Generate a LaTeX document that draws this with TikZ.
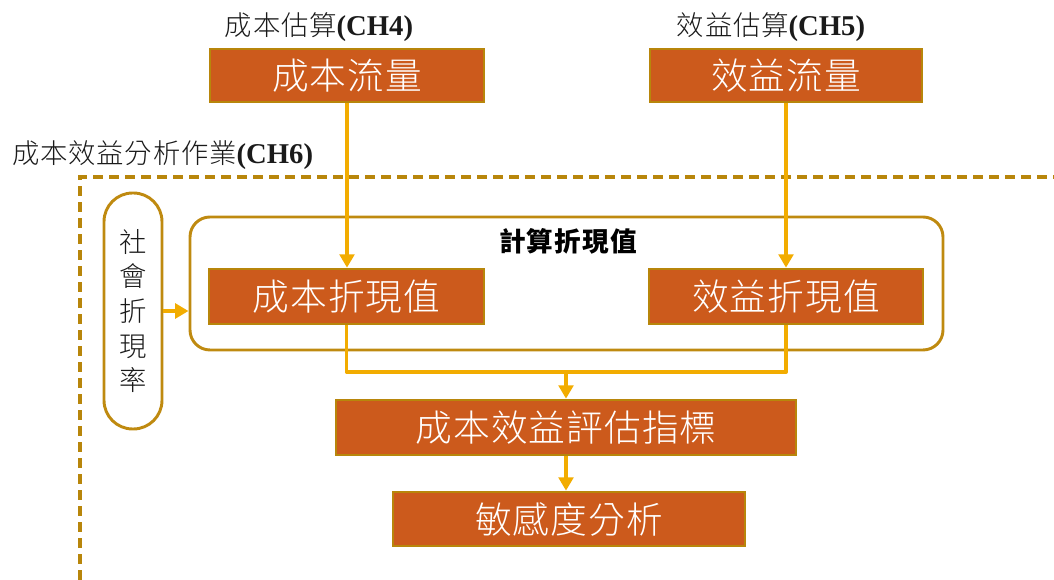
\documentclass[tikz,border=0pt]{standalone}
\usepackage{fontspec}
\IfFontExistsTF{Noto Sans CJK TC Light}{%
  \setmainfont{Noto Sans CJK TC Light}[BoldFont={Noto Sans CJK TC Bold}]}{%
  \setmainfont{Noto Sans CJK TC}}
\newfontfamily\boldcjk{Noto Sans CJK TC}[LetterSpace=4]
\newfontfamily\tnr{Liberation Serif}
\usetikzlibrary{arrows.meta}
\definecolor{boxfill}{HTML}{CC5A1C}
\definecolor{boxedge}{HTML}{B8860B}
\definecolor{arrowc}{HTML}{F2AC00}
\definecolor{framec}{HTML}{BF8A10}
\definecolor{txtc}{HTML}{1A1A1A}
\tikzset{
  box/.style={draw=boxedge, line width=2pt, fill=boxfill, text=white, font=\fontsize{27.5}{30}\selectfont\addfontfeatures{LetterSpace=3}, inner sep=0pt},
  conn/.style={draw=arrowc, line width=2.9pt},
  arr/.style={conn, -{Triangle[width=11pt,length=10pt]}},
  lbl/.style={text=txtc, font=\fontsize{20.5}{22}\selectfont\addfontfeatures{LetterSpace=3}, inner sep=0pt},
  frame/.style={draw=framec, line width=2.2pt},
}
\newcommand{\chlabel}[1]{{\fontsize{21.5}{22}\selectfont\tnr\bfseries #1}}
\begin{document}
\begin{tikzpicture}[x=0.75pt,y=-0.75pt]
\useasboundingbox (0,0) rectangle (1054,580);
% dashed frame
\coordinate (d1) at (80,580);
\coordinate (d2) at (80,177);
\coordinate (d3) at (1054,177);
\draw[draw=boxedge, line width=2.4pt, dash pattern=on 7.5pt off 4.5pt] (d1) -- (d2) -- (d3);
% labels
\node[lbl] (l1) at (319,27) {成本估算\chlabel{(CH4)}};
\node[lbl] (l2) at (771,27) {效益估算\chlabel{(CH5)}};
\node[lbl, anchor=west] (l3) at (12,155) {成本效益分析作業\chlabel{(CH6)}};
% group frame
\node[frame, rounded corners=15pt, minimum width=564.75pt, minimum height=99.75pt] (g) at (566.5,283.5) {};
\node[text=black, font=\fontsize{20}{22}\selectfont\boldcjk\bfseries, inner sep=0pt] (gt) at (568,241) {計算折現值};
% pill
\node[frame, rounded corners=21.5pt, minimum width=43.5pt, minimum height=177pt, inner sep=0pt, text=txtc, align=center, font=\fontsize{20.5}{26}\selectfont] (p) at (133,311) {社\\會\\折\\現\\率};
% boxes
\node[box, minimum width=205.5pt, minimum height=39.75pt] (a) at (347,75.5) {成本流量};
\node[box, minimum width=204pt, minimum height=39.75pt] (b) at (786,75.5) {效益流量};
\node[box, minimum width=206.25pt, minimum height=41.25pt] (c) at (346.5,296.5) {成本折現值};
\node[box, minimum width=205.5pt, minimum height=41.25pt] (e) at (786,296.5) {效益折現值};
\node[box, minimum width=345pt, minimum height=41.25pt] (f) at (566,427.5) {成本效益評估指標};
\node[box, minimum width=264pt, minimum height=40.5pt] (h) at (569,519) {敏感度分析};
% connectors
\draw[arr] (a.south) -- (a.south |- c.north);
\draw[arr] (b.south) -- (b.south |- e.north);
\coordinate (m) at (566,372);
\draw[conn, line join=round] (c.south) |- (m) -| (e.south);
\draw[arr] (m) -- (f.north);
\draw[arr] (f.south) -- (f.south |- h.north);
\draw[arr] (p.east) -- (g.west |- p.east);
\end{tikzpicture}
\end{document}
